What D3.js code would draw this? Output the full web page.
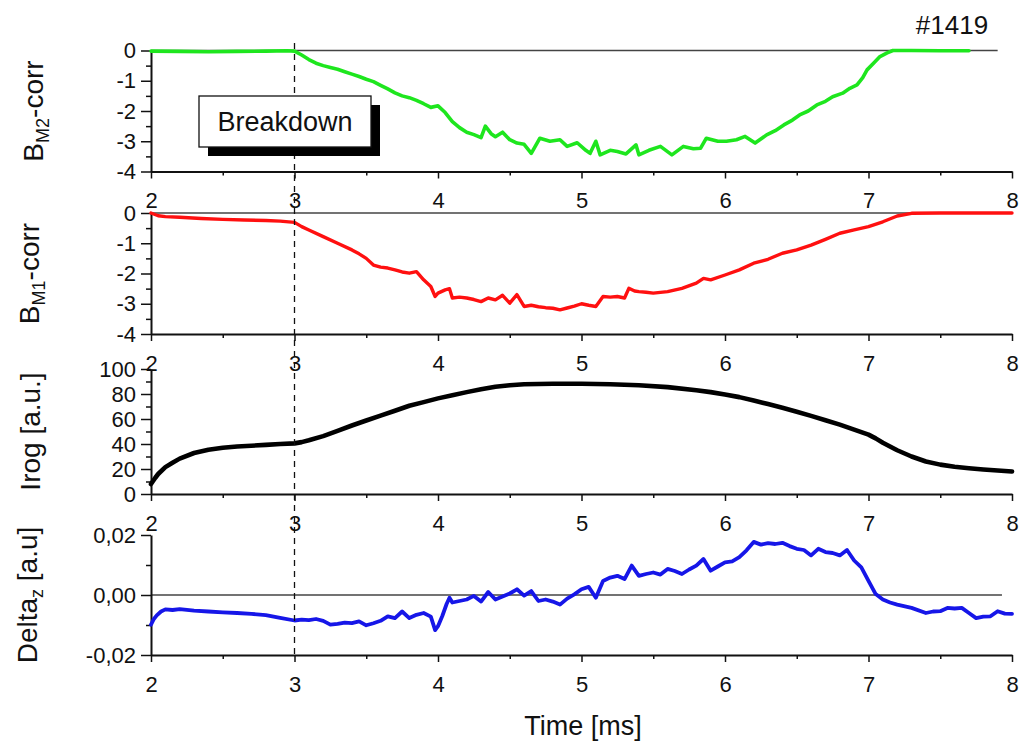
<!DOCTYPE html>
<html lang="en">
<head>
<meta charset="UTF-8">
<title>#1419</title>
<script src="https://d3js.org/d3.v7.min.js"></script>
<style>
    body { margin: 0; background: #fff; }
    svg text { font-family: Arial, "Liberation Sans", sans-serif; fill: #111; }
</style>
</head>
<body>
<div id="chart"></div>
<script>
    // time axis
    const timeTicks = [2, 3, 4, 5, 6, 7, 8];
    const timeMinor = [2.5, 3.5, 4.5, 5.5, 6.5, 7.5];
    const breakdownTime = 3;

    // B_M2-corr (green)
    const bm2Time = [2.0, 2.2, 2.4, 2.6, 2.8, 2.95, 3.0, 3.05, 3.1, 3.15, 3.2, 3.25, 3.3, 3.35, 3.4, 3.45, 3.5, 3.55, 3.6, 3.65, 3.7, 3.75, 3.8, 3.85, 3.9, 3.95, 4.0, 4.05, 4.1, 4.15, 4.2, 4.25, 4.3, 4.33, 4.37, 4.4, 4.45, 4.5, 4.55, 4.6, 4.65, 4.71, 4.78, 4.85, 4.9, 4.97, 5.03, 5.06, 5.1, 5.13, 5.2, 5.25, 5.31, 5.38, 5.4, 5.47, 5.55, 5.63, 5.71, 5.78, 5.83, 5.87, 5.95, 6.01, 6.08, 6.14, 6.21, 6.29, 6.35, 6.41, 6.47, 6.52, 6.58, 6.64, 6.7, 6.75, 6.82, 6.87, 6.92, 6.96, 6.99, 7.04, 7.08, 7.13, 7.17, 7.3, 7.5, 7.7];
    const bm2Values = [-0.02, -0.03, -0.04, -0.03, -0.02, -0.01, -0.02, -0.15, -0.3, -0.42, -0.5, -0.56, -0.62, -0.7, -0.78, -0.86, -0.95, -1.03, -1.15, -1.27, -1.4, -1.5, -1.56, -1.65, -1.76, -1.88, -1.83, -2.05, -2.35, -2.55, -2.7, -2.78, -2.88, -2.5, -2.75, -2.85, -2.7, -2.95, -3.06, -3.1, -3.4, -2.9, -3.0, -2.95, -3.17, -3.05, -3.3, -3.4, -3.0, -3.45, -3.3, -3.34, -3.42, -3.12, -3.45, -3.3, -3.17, -3.45, -3.17, -3.25, -3.23, -2.9, -3.0, -3.0, -2.95, -2.84, -3.06, -2.79, -2.65, -2.46, -2.3, -2.13, -2.0, -1.8, -1.68, -1.53, -1.41, -1.25, -1.14, -0.9, -0.64, -0.4, -0.2, -0.08, 0, 0, -0.01, -0.01];

    // B_M1-corr (red)
    const bm1Time = [2.0, 2.05, 2.1, 2.2, 2.35, 2.5, 2.65, 2.8, 2.9, 3.0, 3.05, 3.1, 3.2, 3.3, 3.4, 3.45, 3.5, 3.55, 3.6, 3.65, 3.7, 3.75, 3.8, 3.85, 3.9, 3.95, 3.98, 4.0, 4.05, 4.08, 4.1, 4.15, 4.2, 4.25, 4.3, 4.35, 4.4, 4.45, 4.5, 4.55, 4.6, 4.65, 4.7, 4.75, 4.8, 4.85, 4.9, 4.95, 5.0, 5.05, 5.1, 5.15, 5.2, 5.25, 5.3, 5.33, 5.37, 5.4, 5.45, 5.5, 5.6, 5.7, 5.8, 5.85, 5.9, 6.0, 6.1, 6.2, 6.3, 6.4, 6.5, 6.6, 6.7, 6.8, 6.9, 7.0, 7.1, 7.2, 7.3, 7.5, 8.0];
    const bm1Values = [0, -0.09, -0.12, -0.14, -0.18, -0.21, -0.23, -0.25, -0.27, -0.31, -0.45, -0.56, -0.78, -1.0, -1.22, -1.35, -1.5, -1.72, -1.79, -1.82, -1.88, -1.95, -1.99, -1.94, -2.21, -2.43, -2.76, -2.65, -2.54, -2.5, -2.81, -2.78, -2.81, -2.86, -2.93, -2.81, -2.87, -2.72, -2.98, -2.7, -3.09, -3.05, -3.1, -3.13, -3.15, -3.2, -3.14, -3.08, -3.0, -3.05, -3.09, -2.76, -2.78, -2.76, -2.81, -2.49, -2.58, -2.6, -2.62, -2.65, -2.6, -2.49, -2.32, -2.16, -2.21, -2.05, -1.88, -1.66, -1.53, -1.33, -1.22, -1.06, -0.87, -0.67, -0.56, -0.45, -0.29, -0.1, -0.01, 0, 0];

    // Irog (black)
    const irogTime = [2.0, 2.03, 2.05, 2.1, 2.15, 2.2, 2.3, 2.4, 2.5, 2.6, 2.8, 2.9, 3.0, 3.05, 3.1, 3.2, 3.3, 3.4, 3.5, 3.6, 3.7, 3.8, 3.9, 4.0, 4.1, 4.2, 4.3, 4.4, 4.5, 4.6, 4.8, 5.0, 5.2, 5.4, 5.6, 5.8, 5.9, 6.0, 6.1, 6.2, 6.3, 6.4, 6.5, 6.6, 6.7, 6.8, 6.9, 7.0, 7.05, 7.1, 7.2, 7.3, 7.4, 7.5, 7.6, 7.7, 7.8, 7.9, 8.0];
    const irogValues = [8, 13, 16, 21.5, 25, 28.3, 32.8, 35.4, 37, 38, 39.3, 40, 40.5, 41.5, 43, 46.3, 50.5, 54.8, 58.8, 62.7, 66.6, 70.6, 73.5, 76.5, 79, 81.5, 83.8, 85.8, 87, 87.8, 88.2, 88.2, 87.8, 87, 85.5, 83, 81.5, 79.6, 77.5, 74.8, 72, 69, 65.8, 62.5, 59, 55.5, 51.5, 47.5, 44.5, 41, 35, 30, 26, 23.5, 21.8, 20.6, 19.6, 18.8, 18];

    // Delta_z (blue)
    const deltaTime = [2.0, 2.02, 2.04, 2.07, 2.1, 2.15, 2.2, 2.3, 2.4, 2.5, 2.6, 2.7, 2.8, 2.9, 3.0, 3.05, 3.1, 3.15, 3.2, 3.25, 3.3, 3.35, 3.4, 3.45, 3.5, 3.55, 3.6, 3.65, 3.7, 3.75, 3.8, 3.85, 3.9, 3.95, 3.98, 4.0, 4.03, 4.06, 4.08, 4.1, 4.15, 4.2, 4.25, 4.3, 4.35, 4.4, 4.45, 4.5, 4.55, 4.6, 4.65, 4.7, 4.75, 4.8, 4.85, 4.9, 4.95, 5.0, 5.05, 5.1, 5.15, 5.2, 5.25, 5.3, 5.35, 5.4, 5.45, 5.5, 5.55, 5.6, 5.65, 5.7, 5.75, 5.8, 5.85, 5.9, 5.95, 6.0, 6.05, 6.1, 6.15, 6.2, 6.25, 6.3, 6.35, 6.4, 6.45, 6.5, 6.55, 6.6, 6.65, 6.7, 6.75, 6.8, 6.85, 6.9, 6.95, 7.0, 7.05, 7.1, 7.15, 7.2, 7.3, 7.4, 7.45, 7.5, 7.55, 7.6, 7.65, 7.7, 7.75, 7.8, 7.85, 7.9, 7.95, 8.0];
    const deltaValues = [-0.0099, -0.008, -0.0068, -0.0055, -0.0048, -0.005, -0.0047, -0.0052, -0.0055, -0.0058, -0.006, -0.0063, -0.0067, -0.0076, -0.0085, -0.0082, -0.0084, -0.008, -0.0086, -0.0099, -0.0096, -0.0092, -0.0094, -0.0088, -0.0101, -0.0094, -0.0086, -0.0071, -0.0077, -0.0055, -0.0077, -0.0066, -0.006, -0.0072, -0.0117, -0.0104, -0.007, -0.003, -0.0009, -0.0025, -0.002, -0.0015, -0.0003, -0.0022, 0.001, -0.0015, -0.0005, 0.0005, 0.0019, -0.0002, 0.0013, -0.002, -0.0015, -0.0022, -0.0032, -0.0012, 0.0002, 0.0019, 0.0027, -0.0009, 0.0047, 0.0058, 0.0064, 0.0053, 0.0098, 0.0064, 0.007, 0.0075, 0.0068, 0.0087, 0.008, 0.007, 0.0085, 0.0098, 0.012, 0.0081, 0.0095, 0.0109, 0.0112, 0.0126, 0.0149, 0.0177, 0.0168, 0.0173, 0.017, 0.0174, 0.0163, 0.0154, 0.015, 0.0132, 0.0154, 0.0143, 0.014, 0.0132, 0.015, 0.0115, 0.0092, 0.0047, 0.0003, -0.0015, -0.0025, -0.0032, -0.0043, -0.006, -0.0055, -0.0054, -0.0043, -0.0045, -0.0043, -0.006, -0.0077, -0.0072, -0.0071, -0.0054, -0.0062, -0.0063];

    // y tick labels
    const bTicks = [0, -1, -2, -3, -4];
    const bMinor = [-0.5, -1.5, -2.5, -3.5];
    const irogTicks = [0, 20, 40, 60, 80, 100];
    const irogMinor = [10, 30, 50, 70, 90];
    const deltaTicks = [0.02, 0, -0.02];
    const deltaTickLabels = ["0,02", "0,00", "-0,02"];
    const deltaMinor = [0.01, -0.01];

    const width = 1026, height = 747;
    const svg = d3.select("#chart").append("svg")
        .attr("width", width)
        .attr("height", height);

    const x = d3.scaleLinear().domain([2, 8]).range([151, 1012]);

    const panels = [
        { top: 50.5, bottom: 171.5, domain: [-4, 0], ticks: bTicks, minor: bMinor, fmt: d => d,
          time: bm2Time, values: bm2Values, color: "#1ee61e", lw: 3.6, zeroEnd: 7.9,
          title: ["B", "M2", "-corr"], titleX: 43 },
        { top: 213, bottom: 334, domain: [-4, 0], ticks: bTicks, minor: bMinor, fmt: d => d,
          time: bm1Time, values: bm1Values, color: "#ff1010", lw: 3.4, zeroEnd: 8,
          title: ["B", "M1", "-corr"], titleX: 39 },
        { top: 369, bottom: 494, domain: [0, 100], ticks: irogTicks, minor: irogMinor, fmt: d => d,
          time: irogTime, values: irogValues, color: "#000", lw: 4.6, zeroEnd: null,
          title: ["Irog [a.u.]"], titleX: 40 },
        { top: 535, bottom: 655, domain: [-0.02, 0.02], ticks: deltaTicks, minor: deltaMinor,
          fmt: (d, i) => deltaTickLabels[i],
          time: deltaTime, values: deltaValues, color: "#1616e8", lw: 3.8, zeroEnd: 7.93,
          title: ["Delta", "z", " [a.u]"], titleX: 37 }
    ];

    panels.forEach(p => {
        const y = d3.scaleLinear().domain(p.domain).range([p.bottom, p.top]);

        if (p.zeroEnd !== null) {
            svg.append("line")
                .attr("x1", x(2)).attr("x2", x(p.zeroEnd))
                .attr("y1", y(0)).attr("y2", y(0))
                .attr("stroke", "#444").attr("stroke-width", 1.5);
        }

        // x axis, minor then major ticks
        svg.append("g")
            .attr("transform", `translate(0,${p.bottom})`)
            .call(d3.axisBottom(x).tickValues(timeMinor).tickSize(4).tickFormat(""))
            .call(g => g.select(".domain").remove())
            .call(g => g.selectAll("line").attr("stroke", "#111").attr("stroke-width", 1.5));

        svg.append("g")
            .attr("transform", `translate(0,${p.bottom})`)
            .call(d3.axisBottom(x).tickValues(timeTicks).tickSize(7).tickSizeOuter(0)
                .tickPadding(14).tickFormat(d3.format("d")))
            .call(g => g.select(".domain").attr("stroke", "#111").attr("stroke-width", 2))
            .call(g => g.selectAll("line").attr("stroke", "#111").attr("stroke-width", 1.5))
            .call(g => g.selectAll("text").attr("font-size", 22).attr("fill", "#111"));

        // y axis
        svg.append("g")
            .attr("transform", `translate(${x(2)},0)`)
            .call(d3.axisLeft(y).tickValues(p.minor).tickSize(5).tickFormat(""))
            .call(g => g.select(".domain").remove())
            .call(g => g.selectAll("line").attr("stroke", "#111").attr("stroke-width", 1.5));

        svg.append("g")
            .attr("transform", `translate(${x(2)},0)`)
            .call(d3.axisLeft(y).tickValues(p.ticks).tickSize(10).tickSizeOuter(0).tickPadding(5).tickFormat(p.fmt))
            .call(g => g.select(".domain").attr("stroke", "#111").attr("stroke-width", 2))
            .call(g => g.selectAll("line").attr("stroke", "#111").attr("stroke-width", 1.5))
            .call(g => g.selectAll("text").attr("font-size", 22).attr("fill", "#111"));

        // data
        const pts = p.time.map((t, i) => [t, p.values[i]]);
        svg.append("path")
            .datum(pts)
            .attr("fill", "none")
            .attr("stroke", p.color)
            .attr("stroke-width", p.lw)
            .attr("stroke-linejoin", "round")
            .attr("stroke-linecap", "round")
            .attr("d", d3.line().x(d => x(d[0])).y(d => y(d[1])));

        // axis title
        const cy = (p.top + p.bottom) / 2;
        const t = svg.append("text")
            .attr("transform", `translate(${p.titleX},${cy}) rotate(-90)`)
            .attr("text-anchor", "middle")
            .attr("font-size", 28);
        t.append("tspan").text(p.title[0]);
        if (p.title.length > 1) {
            t.append("tspan").attr("font-size", 18).attr("dy", 6).text(p.title[1]);
            t.append("tspan").attr("dy", -6).text(p.title[2]);
        }
    });

    // breakdown marker
    svg.append("line")
        .attr("x1", x(breakdownTime)).attr("x2", x(breakdownTime))
        .attr("y1", 43).attr("y2", 655)
        .attr("stroke", "#111").attr("stroke-width", 1.3)
        .attr("stroke-dasharray", "6,5");

    svg.append("rect")
        .attr("x", 208).attr("y", 105).attr("width", 172).attr("height", 51)
        .attr("fill", "#000");
    svg.append("rect")
        .attr("x", 199).attr("y", 96).attr("width", 172).attr("height", 51)
        .attr("fill", "#fff").attr("stroke", "#111").attr("stroke-width", 1.3);
    svg.append("text")
        .attr("x", 285).attr("y", 131)
        .attr("text-anchor", "middle")
        .attr("font-size", 27)
        .text("Breakdown");

    svg.append("text")
        .attr("x", 952).attr("y", 34)
        .attr("text-anchor", "middle")
        .attr("font-size", 26)
        .text("#1419");

    svg.append("text")
        .attr("x", 583).attr("y", 735)
        .attr("text-anchor", "middle")
        .attr("font-size", 27)
        .text("Time [ms]");
</script>
</body>
</html>
